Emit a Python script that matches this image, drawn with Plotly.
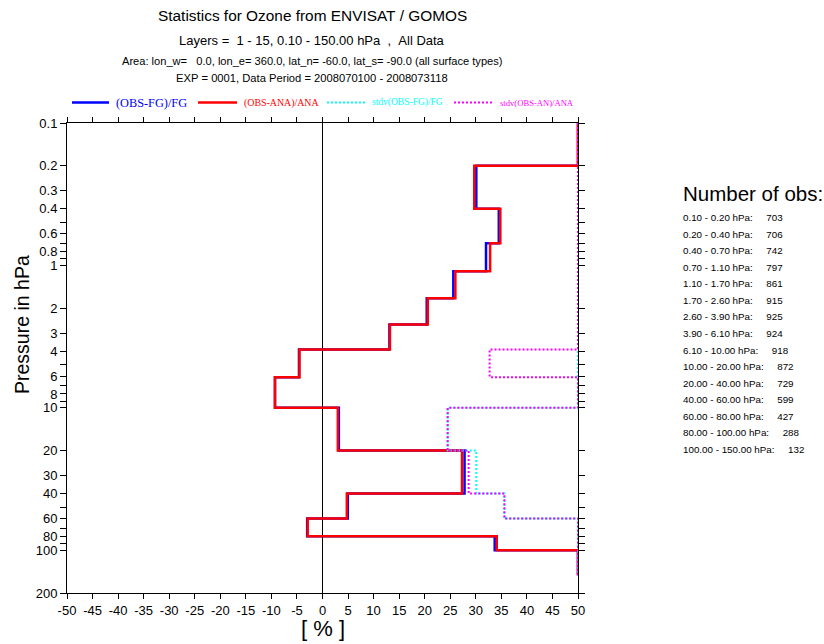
import plotly.graph_objects as go

# ---------------- data ----------------
layer_bounds = [0.1, 0.2, 0.4, 0.7, 1.1, 1.7, 2.6, 3.9, 6.1, 10, 20, 40, 60, 80, 100, 150]
fg_rel_bias = [50, 30.1, 34.5, 32.0, 25.6, 20.4, 13.1, -4.6, -9.3, 3.2, 27.8, 4.95, -3.0, 33.7, 50]
ana_rel_bias = [50, 29.7, 34.8, 32.8, 26.0, 20.6, 13.2, -4.5, -9.3, 3.0, 27.3, 4.76, -2.9, 34.1, 50]
stdv_fg = [50, 50, 50, 50, 50, 50, 50, 50, 50, 24.5, 30.1, 35.6, 50, 50, 50]
stdv_an = [50, 50, 50, 50, 50, 50, 50, 32.7, 50, 24.5, 28.6, 35.6, 50, 50, 50]

obs_layers = ["0.10 - 0.20 hPa:", "0.20 - 0.40 hPa:", "0.40 - 0.70 hPa:", "0.70 - 1.10 hPa:",
              "1.10 - 1.70 hPa:", "1.70 - 2.60 hPa:", "2.60 - 3.90 hPa:", "3.90 - 6.10 hPa:",
              "6.10 - 10.00 hPa:", "10.00 - 20.00 hPa:", "20.00 - 40.00 hPa:", "40.00 - 60.00 hPa:",
              "60.00 - 80.00 hPa:", "80.00 - 100.00 hPa:", "100.00 - 150.00 hPa:"]
obs_counts = [703, 706, 742, 797, 861, 915, 925, 924, 918, 872, 729, 599, 427, 288, 132]

x_ticks = list(range(-50, 51, 5))
y_tickvals = [0.1, 0.2, 0.3, 0.4, 0.5, 0.6, 0.7, 0.8, 0.9, 1, 2, 3, 4, 5, 6, 7, 8, 9,
              10, 20, 30, 40, 50, 60, 70, 80, 90, 100, 200]
y_ticktext = ["0.1", "0.2", "0.3", "0.4", "", "0.6", "", "0.8", "", "1", "2", "3", "4", "", "6", "",
              "8", "", "10", "20", "30", "40", "", "60", "", "80", "", "100", "200"]

title_lines = ["Statistics for Ozone from ENVISAT / GOMOS",
               "Layers =  1 - 15, 0.10 - 150.00 hPa  ,  All Data",
               "Area: lon_w=   0.0, lon_e= 360.0, lat_n= -60.0, lat_s= -90.0 (all surface types)",
               "EXP = 0001, Data Period = 2008070100 - 2008073118"]

# ---------------- layout geometry (pixels) ----------------
W, H = 824, 644
L, R, T, B = 67, 578, 123, 593


def px(xp):
    return (xp - L) / (R - L)


def py(yp):
    return (B - yp) / (B - T)


def keep_spaces(s):
    return s.replace(" ", "\u00a0")


def steps(vals):
    xs, ys = [], []
    for i, v in enumerate(vals):
        xs += [v, v]
        ys += [layer_bounds[i], layer_bounds[i + 1]]
    return xs, ys


fig = go.Figure()
series = [
    (fg_rel_bias, "#0000ff", 2.5, "solid"),
    (ana_rel_bias, "#ff0000", 2.5, "solid"),
    (stdv_fg, "#00ffff", 2, "2px,2px"),
    (stdv_an, "#ff00ff", 2, "2px,2px"),
]
for vals, col, w, dash in series:
    xs, ys = steps(vals)
    fig.add_trace(go.Scatter(x=xs, y=ys, mode="lines", showlegend=False,
                             line=dict(color=col, width=w, dash=dash), hoverinfo="skip"))

ann = []
shapes = []
sans = "Liberation Sans, Arial, sans-serif"
serif = "Liberation Serif, Times New Roman, serif"

# titles
for txt, yy, sz in zip(title_lines, [16, 40, 61, 78], [15.4, 13, 11.1, 11.2]):
    ann.append(dict(text=keep_spaces(txt), x=px(312), y=py(yy), xref="paper", yref="paper",
                    showarrow=False, xanchor="center", yanchor="middle",
                    font=dict(family=sans, size=sz, color="black")))

# custom legend
leg = [
    (72, 109, 114, "(OBS-FG)/FG", "#0000ff", 2.5, "solid", 12.3),
    (198, 237, 242, "(OBS-ANA)/ANA", "#ff0000", 2.5, "solid", 9.9),
    (327, 365, 370, "stdv(OBS-FG)/FG", "#00ffff", 2, "2px,2px", 9.5),
    (454, 493, 498, "stdv(OBS-AN)/ANA", "#ff00ff", 2, "2px,2px", 8.6),
]
for x0, x1, xt, txt, col, w, dash, sz in leg:
    shapes.append(dict(type="line", xref="paper", yref="paper", x0=px(x0), x1=px(x1),
                       y0=py(102.5), y1=py(102.5), line=dict(color=col, width=w, dash=dash)))
    ann.append(dict(text=txt, x=px(xt), y=py(103), xref="paper", yref="paper",
                    showarrow=False, xanchor="left", yanchor="middle",
                    font=dict(family=serif, size=sz, color=col)))

# number of obs panel
ann.append(dict(text="Number of obs:", x=px(681), y=py(193), xref="paper", yref="paper",
                showarrow=False, xanchor="left", yanchor="middle",
                font=dict(family=sans, size=20.5, color="black")))
for i, (lab, n) in enumerate(zip(obs_layers, obs_counts)):
    ann.append(dict(text=keep_spaces(lab) + "\u00a0" * 5 + str(n), x=px(681), y=py(217.5 + i * 16.57),
                    xref="paper", yref="paper", showarrow=False, xanchor="left", yanchor="middle",
                    font=dict(family=sans, size=9.8, color="black")))

# axis titles
ann.append(dict(text="Pressure in hPa", x=px(22), y=py(325), xref="paper", yref="paper",
                showarrow=False, textangle=-90, xanchor="center", yanchor="middle",
                font=dict(family=sans, size=19.5, color="black")))
ann.append(dict(text="[ % ]", x=px(323), y=py(628), xref="paper", yref="paper",
                showarrow=False, xanchor="center", yanchor="middle",
                font=dict(family=sans, size=22, color="black")))

fig.update_layout(
    width=W, height=H,
    margin=dict(l=L, r=W - R, t=T, b=H - B, pad=0),
    paper_bgcolor="white", plot_bgcolor="white",
    showlegend=False,
    annotations=ann, shapes=shapes,
    xaxis=dict(range=[-50, 50], tickvals=x_ticks, ticktext=[str(v) for v in x_ticks],
               showgrid=False, zeroline=True, zerolinecolor="black", zerolinewidth=1,
               showline=True, linecolor="black", linewidth=1, mirror="ticks",
               ticks="outside", ticklen=5, tickcolor="black", tickwidth=1, layer="below traces",
               tickfont=dict(family=sans, size=13, color="black")),
    yaxis=dict(type="log", range=[2.30103, -1], tickvals=y_tickvals, ticktext=y_ticktext,
               showgrid=False, zeroline=False,
               showline=True, linecolor="black", linewidth=1, mirror="ticks",
               ticks="outside", ticklen=6, tickcolor="black", tickwidth=1, layer="below traces",
               tickfont=dict(family=sans, size=13, color="black")),
)

fig.write_html("out.html", config={"displayModeBar": False},
               post_script="document.body.style.margin='0px';document.body.style.overflow='hidden';")
